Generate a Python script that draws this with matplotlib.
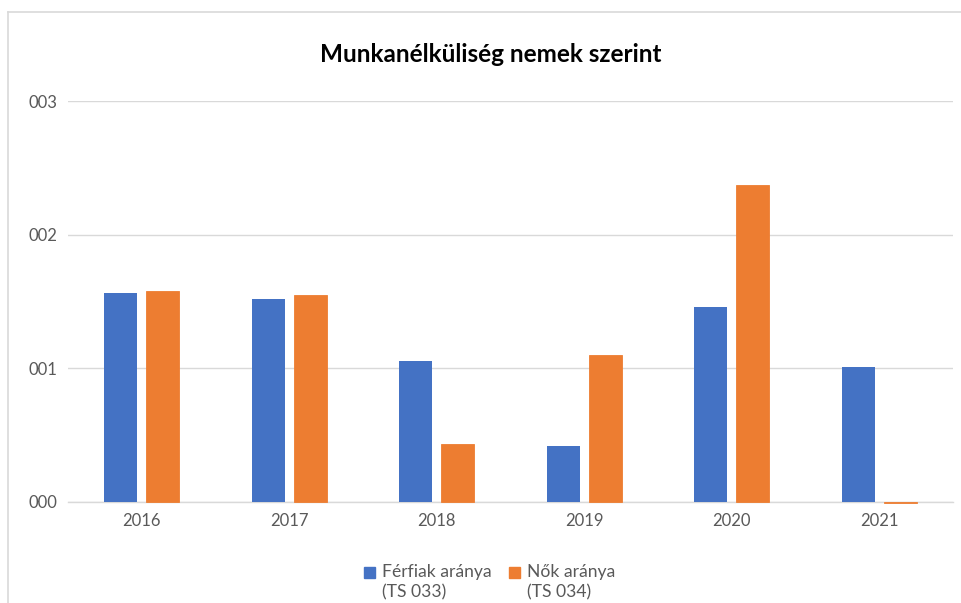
import matplotlib
matplotlib.use("Agg")
import matplotlib.pyplot as plt
from matplotlib.lines import Line2D
from matplotlib.patches import Rectangle
import numpy as np

years = ["2016", "2017", "2018", "2019", "2020", "2021"]
ferfiak = [1.563, 1.518, 1.055, 0.419, 1.458, 1.010]
nok = [1.578, 1.548, 0.434, 1.100, 2.371, -0.008]
ytick_vals = [0, 1, 2, 3]
ytick_labels = ["000", "001", "002", "003"]
series_labels = ["Férfiak aránya\n(TS 033)", "Nők aránya\n(TS 034)"]
title = "Munkanélküliség nemek szerint"

BLUE = "#4472C4"
ORANGE = "#ED7D31"
GRAY = "#595959"
plt.rcParams['font.family'] = ['Lato', 'DejaVu Sans']

W, H = 961, 603
fig = plt.figure(figsize=(W / 100, H / 100), dpi=100)
ax = fig.add_axes([68 / W, 1 - 502 / H, (953 - 68) / W, (502 - 101) / H])

x = np.arange(len(years))
bw = 0.224
gap = 0.06
off = (bw + gap) / 2
ax.bar(x - off, ferfiak, bw, color=BLUE, zorder=3, clip_on=False)
ax.bar(x + off, nok, bw, color=ORANGE, zorder=3, clip_on=False,
       edgecolor=ORANGE, linewidth=0.6)

ax.set_xlim(-0.5, len(years) - 0.5)
ax.set_ylim(0, 3)
ax.set_yticks(ytick_vals)
ax.set_yticklabels(ytick_labels)
ax.set_xticks(x)
ax.set_xticklabels(years)
ax.tick_params(axis='both', length=0, labelsize=12, colors=GRAY)
ax.tick_params(axis='y', pad=8)
ax.tick_params(axis='x', pad=8)
ax.yaxis.grid(True, color="#D9D9D9", linewidth=1, zorder=0)
for s in ["top", "right", "left"]:
    ax.spines[s].set_visible(False)
ax.spines["bottom"].set_color("#D9D9D9")
ax.spines["bottom"].set_linewidth(1)
ax.spines["bottom"].set_zorder(2)

fig.text(491 / W, 1 - 55 / H, title, ha="center", va="center",
         fontsize=17.5, fontweight="bold", color="black")

# legend (manual, handle aligned with first line)
leg_items = [(BLUE, 364, 382), (ORANGE, 509, 527)]
for (col, hx, tx), lab in zip(leg_items, series_labels):
    fig.add_artist(Rectangle((hx / W, 1 - 578 / H), 11 / W, 11 / H,
                             transform=fig.transFigure, color=col))
    fig.text(tx / W, 1 - 564 / H, lab, ha="left", va="top", fontsize=12.6,
             color=GRAY, linespacing=1.3)

# chart frame border
fig.add_artist(Line2D([8 / W, 8 / W], [0, 1 - 12 / H], color="#D9D9D9", lw=1.2,
                      transform=fig.transFigure))
fig.add_artist(Line2D([8 / W, 1], [1 - 12 / H, 1 - 12 / H], color="#D9D9D9", lw=1.2,
                      transform=fig.transFigure))

fig.savefig("out.png", dpi=100, facecolor="white")
